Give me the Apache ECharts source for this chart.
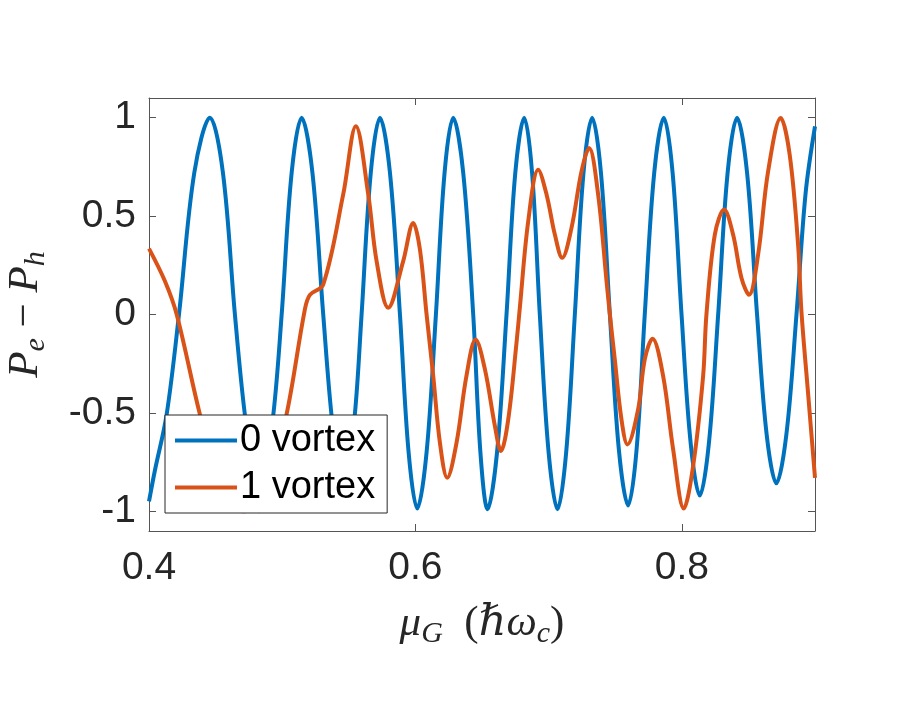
<!DOCTYPE html>
<html>
<head>
<meta charset="utf-8">
<script src="https://cdn.jsdelivr.net/npm/echarts@6/dist/echarts.min.js"></script>
<style>
html,body{margin:0;padding:0;background:#fff;}
#chart{width:900px;height:705px;}
</style>
</head>
<body>
<div id="chart"></div>
<script>
// x ticks and y ticks
const xTicks = [0.4, 0.6, 0.8];
const yTicks = [-1, -0.5, 0, 0.5, 1];
const seriesNames = ['0 vortex', '1 vortex'];

// 0 vortex: [mu_G, Pe-Ph] points
const vortex0 = [
  [0.4,-0.95],[0.4045,-0.79],[0.4132,-0.51],[0.4225,0],[0.434,0.72],[0.4458,1.0],
  [0.4555,0.72],[0.4645,0],[0.472,-0.51],[0.4827,-1.0],[0.4933,-0.51],[0.4996,0],
  [0.5071,0.72],[0.5146,1.0],[0.5227,0.72],[0.5308,0],[0.537,-0.51],[0.5458,-0.99],
  [0.5545,-0.51],[0.5596,0],[0.5665,0.72],[0.5734,1.0],[0.5809,0.72],[0.5884,0],
  [0.5949,-0.7],[0.6014,-0.986],[0.6084,-0.7],[0.6154,0],[0.6219,0.72],[0.6284,1.0],
  [0.6359,0.72],[0.6434,0],[0.6488,-0.7],[0.6542,-0.99],[0.6613,-0.7],[0.6684,0],
  [0.675,0.72],[0.6817,1.0],[0.6876,0.72],[0.6934,0],[0.7,-0.7],[0.7067,-0.99],
  [0.7132,-0.7],[0.7197,0],[0.7262,0.72],[0.7327,1.0],[0.7393,0.72],[0.746,0],
  [0.7528,-0.69],[0.7597,-0.97],[0.766,-0.69],[0.7722,0],[0.7793,0.72],[0.7865,1.0],
  [0.7931,0.72],[0.7998,0],[0.8066,-0.65],[0.8135,-0.92],[0.8204,-0.65],[0.8273,0],
  [0.8344,0.72],[0.8415,1.0],[0.849,0.72],[0.8565,0],[0.8637,-0.61],[0.871,-0.858],
  [0.8785,-0.61],[0.8861,0],[0.893,0.62],[0.9,0.956]
];

// 1 vortex
const vortex1 = [
  [0.4,0.335],[0.412,0.169],[0.4208,0],[0.4383,-0.51],[0.455,-0.92],[0.471,-1.0],
  [0.488,-0.9],[0.5032,-0.51],[0.517,0.025],[0.5208,0.10],[0.5308,0.152],[0.5458,0.61],
  [0.5553,0.956],[0.5646,0.61],[0.5709,0.27],[0.5796,0.034],[0.5908,0.27],[0.5984,0.465],
  [0.6034,0.33],[0.6084,0],[0.6134,-0.313],[0.6184,-0.651],[0.6239,-0.829],[0.6309,-0.651],
  [0.6383,-0.313],[0.6452,-0.127],[0.6522,-0.279],[0.6597,-0.567],[0.6642,-0.694],
  [0.6697,-0.533],[0.6759,-0.144],[0.6784,0.034],[0.6847,0.474],[0.6922,0.736],
  [0.6985,0.609],[0.7047,0.406],[0.7102,0.288],[0.7172,0.44],[0.7247,0.727],[0.7304,0.846],
  [0.7372,0.609],[0.7435,0.169],[0.746,0],[0.7497,-0.228],[0.7547,-0.533],[0.7592,-0.66],
  [0.7672,-0.482],[0.7722,-0.228],[0.778,-0.123],[0.786,-0.313],[0.7935,-0.685],
  [0.8015,-0.986],[0.8085,-0.77],[0.816,-0.313],[0.8185,0],[0.8248,0.406],[0.8318,0.533],
  [0.8385,0.406],[0.8448,0.186],[0.8505,0.10],[0.8573,0.305],[0.8648,0.727],[0.8743,0.998],
  [0.881,0.812],[0.8873,0.355],[0.8898,0.017],[0.8948,-0.40],[0.9,-0.83]
];

const axisColor = '#262626';
const boxColor = '#555';
const tickFont = {fontFamily: 'Liberation Sans, Arial, sans-serif', fontSize: 39, color: axisColor};
const mathFamily = 'Liberation Serif, DejaVu Serif, serif';
const mathRich = {
  i: {fontFamily: mathFamily, fontStyle: 'italic', fontSize: 43, color: axisColor, lineHeight: 50},
  n: {fontFamily: mathFamily, fontSize: 43, color: axisColor, lineHeight: 50},
  sub: {fontFamily: mathFamily, fontStyle: 'italic', fontSize: 30, color: axisColor, lineHeight: 50, verticalAlign: 'bottom', padding: [18, 0, 0, 0]}
};

const chart = echarts.init(document.getElementById('chart'), null, {renderer: 'canvas'});
const lineAx = {show: true, onZero: false, lineStyle: {color: boxColor, width: 1}};
const tickAx = vals => ({show: true, inside: true, length: 7, lineStyle: {color: boxColor}, customValues: vals});
chart.setOption({
  backgroundColor: '#fff',
  animation: false,
  grid: {left: 149, top: 98, right: 85, bottom: 174, containLabel: false, outerBoundsMode: 'none'},
  legend: {
    data: seriesNames,
    left: 165, top: 415,
    orient: 'vertical',
    icon: 'rect',
    itemWidth: 62, itemHeight: 4, itemGap: 6,
    padding: [5, 12, 5, 10],
    backgroundColor: '#fff',
    borderColor: axisColor, borderWidth: 1,
    textStyle: {fontFamily: 'Liberation Sans, Arial, sans-serif', fontSize: 38, color: '#000', lineHeight: 41, padding: [0,0,0,-2]}
  },
  xAxis: [{
    type: 'value', min: 0.4, max: 0.9, position: 'bottom',
    axisLine: lineAx, axisTick: tickAx(xTicks),
    axisLabel: Object.assign({margin: 18, customValues: xTicks, formatter: v => String(+v.toFixed(1))}, tickFont),
    splitLine: {show: false},
    name: '{i|μ}{sub|G}{n|  (}{i|ℏω}{sub|c}{n|)}',
    nameLocation: 'middle', nameGap: 68,
    nameTextStyle: {rich: mathRich}
  }, {
    type: 'value', min: 0.4, max: 0.9, position: 'top',
    axisLine: lineAx, axisTick: tickAx(xTicks),
    axisLabel: {show: false}, splitLine: {show: false}
  }],
  yAxis: [{
    type: 'value', min: -1.1, max: 1.1, position: 'left',
    axisLine: lineAx, axisTick: tickAx(yTicks),
    axisLabel: Object.assign({margin: 13, customValues: yTicks, formatter: v => String(+v.toFixed(1))}, tickFont),
    splitLine: {show: false},
    name: '{i|P}{sub|e}{n| − }{i|P}{sub|h}',
    nameLocation: 'middle', nameGap: 98, nameRotate: 90,
    nameTextStyle: {rich: mathRich}
  }, {
    type: 'value', min: -1.1, max: 1.1, position: 'right',
    axisLine: lineAx, axisTick: tickAx(yTicks),
    axisLabel: {show: false}, splitLine: {show: false}
  }],
  series: [{
    name: seriesNames[0], type: 'line', data: vortex0, showSymbol: false, symbol: 'none',
    smooth: 0.35, color: '#0072BD', lineStyle: {width: 4, color: '#0072BD'}, clip: true
  }, {
    name: seriesNames[1], type: 'line', data: vortex1, showSymbol: false, symbol: 'none',
    smooth: 0.35, color: '#D95319', lineStyle: {width: 4, color: '#D95319'}, clip: true
  }]
});
</script>
</body>
</html>
